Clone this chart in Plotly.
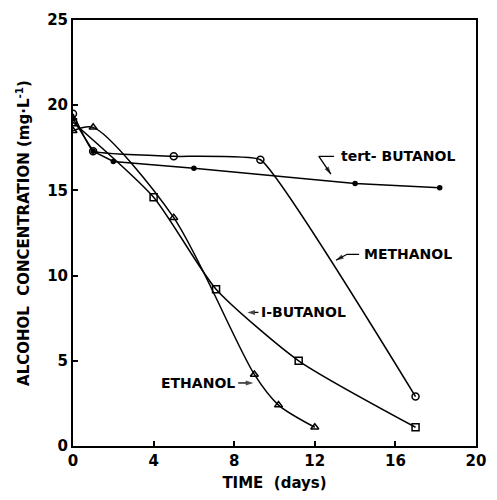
import plotly.graph_objects as go

# Data
tert_x = [0, 1, 2, 6, 14, 18.2]
tert_y = [19.2, 17.3, 16.7, 16.3, 15.4, 15.15]

meth_x = [0, 1, 5, 9.3, 17]
meth_y = [19.5, 17.3, 17.0, 16.8, 2.9]

ibut_x = [0, 4, 7.1, 11.2, 17]
ibut_y = [19.0, 14.6, 9.2, 5.0, 1.1]

eth_x = [0, 1, 5, 9, 10.2, 12]
eth_y = [18.5, 18.7, 13.4, 4.2, 2.4, 1.1]

x_ticks = [0, 4, 8, 12, 16, 20]
y_ticks = [0, 5, 10, 15, 20, 25]

FONT = "DejaVu Sans"
LBL = 14
fig = go.Figure()

def add(x, y, symbol, size, shape="linear", smoothing=1.0):
    fig.add_trace(go.Scatter(
        x=x, y=y, mode="lines+markers",
        line=dict(color="black", width=1.5, shape=shape, smoothing=smoothing),
        marker=dict(symbol=symbol, size=size, color="black",
                    line=dict(color="black", width=1.5)),
        showlegend=False, hoverinfo="skip"))

add(tert_x, tert_y, "circle", 4)
add(meth_x, meth_y, "circle-open", 7, "spline", 0.3)
add(ibut_x, ibut_y, "square-open", 7, "spline", 0.6)
add(eth_x, eth_y, "triangle-up-open", 7, "spline", 0.8)

def leader(xs, ys):
    n = len(xs)
    fig.add_trace(go.Scatter(
        x=xs, y=ys, mode="lines+markers",
        line=dict(color="black", width=1.3),
        marker=dict(symbol="arrow", angleref="previous", color="black",
                    size=[0] * (n - 1) + [8], line=dict(width=0)),
        showlegend=False, hoverinfo="skip"))

def text(t, x, y, anchor):
    fig.add_annotation(x=x, y=y, text="<b>" + t + "</b>", showarrow=False,
                       xanchor=anchor, yanchor="middle",
                       font=dict(family=FONT, size=LBL, color="black"))

# tert-BUTANOL
leader([12.95, 12.2, 12.8], [17.0, 17.0, 15.95])
text("tert- BUTANOL", 13.2, 17.0, "left")

# METHANOL
leader([14.2, 13.6, 13.05], [11.25, 11.25, 10.9])
text("METHANOL", 14.35, 11.25, "left")

# i-BUTANOL
leader([9.2, 8.65], [7.84, 7.84])
text("I-BUTANOL", 9.25, 7.84, "left")

# ETHANOL
leader([8.2, 8.95], [3.7, 3.7])
text("ETHANOL", 8.15, 3.7, "right")

axis_common = dict(showline=True, linecolor="black", linewidth=2, mirror=True,
                   ticks="inside", ticklen=5, tickcolor="black", tickwidth=1.5,
                   showgrid=False, zeroline=False,
                   tickfont=dict(family=FONT, size=15, color="black"))

fig.update_xaxes(range=[0, 20], tickvals=x_ticks,
                 ticktext=["<b>%d</b>" % v for v in x_ticks],
                 title=dict(text="<b>TIME  (days)</b>", standoff=8,
                            font=dict(family=FONT, size=15, color="black")),
                 **axis_common)
fig.update_yaxes(range=[0, 25], tickvals=y_ticks,
                 ticktext=["<b>%d</b>" % v for v in y_ticks],
                 title=dict(text="<b>ALCOHOL  CONCENTRATION (mg·L<sup>-1</sup>)</b>",
                            standoff=14,
                            font=dict(family=FONT, size=15, color="black")),
                 **axis_common)

fig.update_layout(width=497, height=500,
                  margin=dict(l=73, r=11, t=16, b=50),
                  paper_bgcolor="white", plot_bgcolor="white")

fig.write_html("out.html")
